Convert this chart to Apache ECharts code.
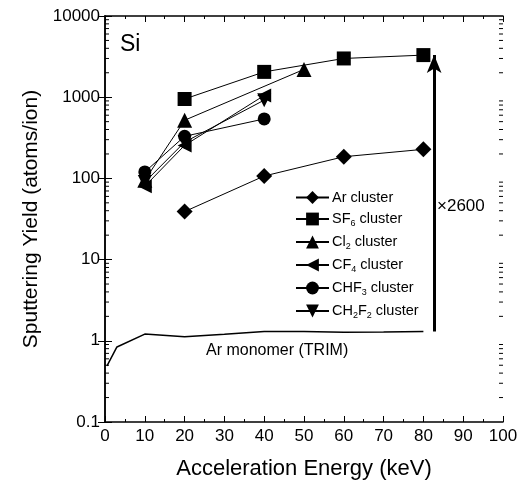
<!DOCTYPE html>
<html>
<head>
<meta charset="utf-8">
<script src="https://cdn.jsdelivr.net/npm/echarts@6/dist/echarts.min.js"></script>
<style>
  html, body { margin: 0; padding: 0; background: #fff; }
  #chart { width: 522px; height: 487px; }
</style>
</head>
<body>
<div id="chart"></div>
<script>
// 数据
const arCluster = [[20, 39], [40, 107], [60, 185], [80, 228]];
const sf6Cluster = [[20, 950], [40, 2050], [60, 3000], [80, 3300]];
const cl2Cluster = [[10, 95], [20, 520], [50, 2200]];
const cf4Cluster = [[10, 80], [20, 255], [40, 1050]];
const chf3Cluster = [[10, 120], [20, 330], [40, 540]];
const ch2f2Cluster = [[10, 90], [20, 280], [40, 920]];
const arMonomer = [[0.5, 0.49], [3, 0.84], [10, 1.21], [20, 1.12], [30, 1.2], [40, 1.3], [50, 1.3], [60, 1.27], [70, 1.28], [80, 1.3]];
const arrowFrom = [82.7, 1.3];
const arrowTo = [82.7, 3300];
const yTicks = [0.1, 1, 10, 100, 1000, 10000];

const FONT = "Liberation Sans";

// log minor ticks 2..9 per decade
const minorVals = [];
for (let i = 0; i < yTicks.length - 1; i++) {
  for (let m = 2; m <= 9; m++) minorVals.push(yTicks[i] * m);
}

const chartDom = document.getElementById("chart");
const myChart = echarts.init(chartDom);

const legendNames = {
  "Ar cluster": "Ar cluster",
  "SF6 cluster": "SF{sub|6} cluster",
  "Cl2 cluster": "Cl{sub|2} cluster",
  "CF4 cluster": "CF{sub|4} cluster",
  "CHF3 cluster": "CHF{sub|3} cluster",
  "CH2F2 cluster": "CH{sub|2}F{sub|2} cluster",
};

function clusterSeries(name, data, symbol, size, rotate) {
  return {
    name: name,
    type: "line",
    data: data,
    symbol: symbol,
    symbolSize: size,
    symbolRotate: rotate || 0,
    itemStyle: { color: "#000" },
    lineStyle: { color: "#000", width: 1 },
    z: 3,
  };
}

const axisCommon = {
  axisLine: { show: true, lineStyle: { color: "#000", width: 1.5 } },
  splitLine: { show: false },
};

const option = {
  animation: false,
  backgroundColor: "#fff",
  grid: { left: 105, right: 19, top: 16, bottom: 65 },
  legend: {
    orient: "vertical",
    left: 295,
    top: 190,
    padding: 0,
    itemWidth: 33,
    itemHeight: 16,
    itemGap: 6.5,
    data: Object.keys(legendNames),
    formatter: (n) => legendNames[n],
    textStyle: {
      fontFamily: FONT,
      fontSize: 14.5,
      color: "#000",
      padding: [0, 0, 0, -2],
      rich: {
        sub: { fontSize: 9, verticalAlign: "bottom", padding: [9, 0, 0, 0], fontFamily: FONT },
      },
    },
  },
  xAxis: [
    {
      type: "value",
      min: 0,
      max: 100,
      interval: 10,
      name: "Acceleration Energy (keV)",
      nameLocation: "middle",
      nameGap: 36,
      nameTextStyle: { fontFamily: FONT, fontSize: 22, color: "#000" },
      axisLabel: { fontFamily: FONT, fontSize: 17, color: "#000", margin: 6 },
      axisTick: { inside: true, length: 6, lineStyle: { color: "#000" } },
      minorTick: { show: true, splitNumber: 2, length: 3, lineStyle: { color: "#000" } },
      ...axisCommon,
    },
    {
      type: "value",
      position: "top",
      min: 0,
      max: 100,
      interval: 10,
      axisLabel: { show: false },
      axisTick: { inside: true, length: 6, lineStyle: { color: "#000" } },
      minorTick: { show: true, splitNumber: 2, length: 3, lineStyle: { color: "#000" } },
      ...axisCommon,
    },
  ],
  yAxis: [
    {
      type: "log",
      logBase: 10,
      min: 0.1,
      max: 10000,
      name: "Sputtering Yield (atoms/ion)",
      nameLocation: "middle",
      nameGap: 62,
      nameTextStyle: { fontFamily: FONT, fontSize: 21, color: "#000" },
      axisLabel: {
        fontFamily: FONT,
        fontSize: 17,
        color: "#000",
        margin: 5,
        formatter: (v) => (v < 1 ? "0.1" : String(Math.round(v))),
      },
      axisTick: { inside: true, length: 7, lineStyle: { color: "#000" } },
      ...axisCommon,
    },
    {
      type: "log",
      logBase: 10,
      min: 0.1,
      max: 10000,
      position: "right",
      axisLabel: { show: false },
      axisTick: { inside: true, length: 7, lineStyle: { color: "#000" } },
      ...axisCommon,
    },
  ],
  graphic: [
    { type: "text", left: 120, top: 33, style: { text: "Si", fontFamily: FONT, fontSize: 23, fill: "#000" } },
    { type: "text", left: 206, top: 343, style: { text: "Ar monomer (TRIM)", fontFamily: FONT, fontSize: 16, fill: "#000" } },
    { type: "text", left: 437, top: 198, style: { text: "×2600", fontFamily: FONT, fontSize: 17, fill: "#000" } },
  ],
  series: [
    // 次刻度 (对数轴)
    {
      type: "custom",
      silent: true,
      data: minorVals.map((v) => [0, v]),
      renderItem: function (params, api) {
        const v = api.value(1);
        const l = api.coord([0, v]);
        const r = api.coord([100, v]);
        return {
          type: "group",
          children: [
            { type: "line", shape: { x1: l[0], y1: l[1], x2: l[0] + 4, y2: l[1] }, style: { stroke: "#000", lineWidth: 1 } },
            { type: "line", shape: { x1: r[0], y1: r[1], x2: r[0] - 4, y2: r[1] }, style: { stroke: "#000", lineWidth: 1 } },
          ],
        };
      },
      z: 1,
    },
    {
      name: "Ar monomer",
      type: "line",
      data: arMonomer,
      symbol: "none",
      lineStyle: { color: "#000", width: 1.5 },
      markLine: {
        silent: true,
        symbol: ["none", "arrow"],
        symbolSize: [11, 18],
        label: { show: false },
        lineStyle: { color: "#000", width: 3, type: "solid" },
        data: [[{ coord: arrowFrom }, { coord: arrowTo }]],
      },
    },
    clusterSeries("Ar cluster", arCluster, "diamond", 16),
    clusterSeries("SF6 cluster", sf6Cluster, "rect", 14),
    clusterSeries("Cl2 cluster", cl2Cluster, "triangle", 15),
    clusterSeries("CF4 cluster", cf4Cluster, "triangle", 14, 90),
    clusterSeries("CHF3 cluster", chf3Cluster, "circle", 13),
    clusterSeries("CH2F2 cluster", ch2f2Cluster, "triangle", 14, 180),
  ],
};

myChart.setOption(option);
</script>
</body>
</html>
